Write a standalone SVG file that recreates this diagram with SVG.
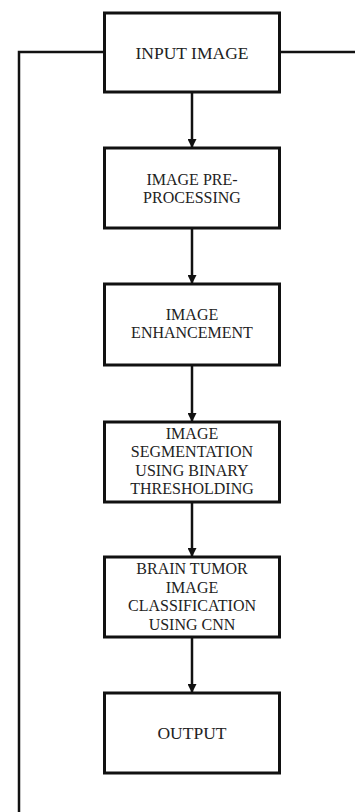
<svg xmlns="http://www.w3.org/2000/svg" width="355" height="812" viewBox="0 0 355 812">
<defs>
<style>
.box{fill:#fff;stroke:#111;stroke-width:3}
.t{font-family:"Liberation Serif","Times New Roman",serif;font-size:16px;fill:#222;text-anchor:middle}
.t1{font-size:17.5px}
.c{fill:none;stroke:#111;stroke-width:2.5}
</style>
<marker id="ah" markerWidth="10" markerHeight="9" refX="9" refY="4.5" orient="auto" markerUnits="userSpaceOnUse">
<path d="M0,0 L9,4.5 L0,9 z" fill="#111"/>
</marker>
</defs>
<rect width="355" height="812" fill="#fff"/>
<g id="connectors">
<path class="c" d="M104,52 H19 V812"/>
<path class="c" d="M279,52 H355"/>
<path class="c" d="M192,92 V148" marker-end="url(#ah)"/>
<path class="c" d="M192,228 V284" marker-end="url(#ah)"/>
<path class="c" d="M192,365 V422" marker-end="url(#ah)"/>
<path class="c" d="M192,502 V557" marker-end="url(#ah)"/>
<path class="c" d="M192,637 V693" marker-end="url(#ah)"/>
</g>
<g id="input">
<rect class="box" x="104.5" y="13" width="175" height="79"/>
<text class="t t1" x="192" y="59">INPUT IMAGE</text>
</g>
<g id="preprocessing">
<rect class="box" x="104.5" y="148" width="175" height="80"/>
<text class="t" x="192" y="184.5">IMAGE PRE-</text>
<text class="t" x="192" y="203">PROCESSING</text>
</g>
<g id="enhancement">
<rect class="box" x="104.5" y="284" width="175" height="81"/>
<text class="t" x="192" y="319.5">IMAGE</text>
<text class="t" x="192" y="338">ENHANCEMENT</text>
</g>
<g id="segmentation">
<rect class="box" x="104.5" y="422" width="175" height="80"/>
<text class="t" x="192" y="438.5">IMAGE</text>
<text class="t" x="192" y="457">SEGMENTATION</text>
<text class="t" x="192" y="475.5">USING BINARY</text>
<text class="t" x="192" y="494">THRESHOLDING</text>
</g>
<g id="classification">
<rect class="box" x="104.5" y="557" width="175" height="80"/>
<text class="t" x="192" y="574">BRAIN TUMOR</text>
<text class="t" x="192" y="592.5">IMAGE</text>
<text class="t" x="192" y="611">CLASSIFICATION</text>
<text class="t" x="192" y="629.5">USING CNN</text>
</g>
<g id="output">
<rect class="box" x="104.5" y="693" width="175" height="80"/>
<text class="t t1" x="192" y="739">OUTPUT</text>
</g>
</svg>
